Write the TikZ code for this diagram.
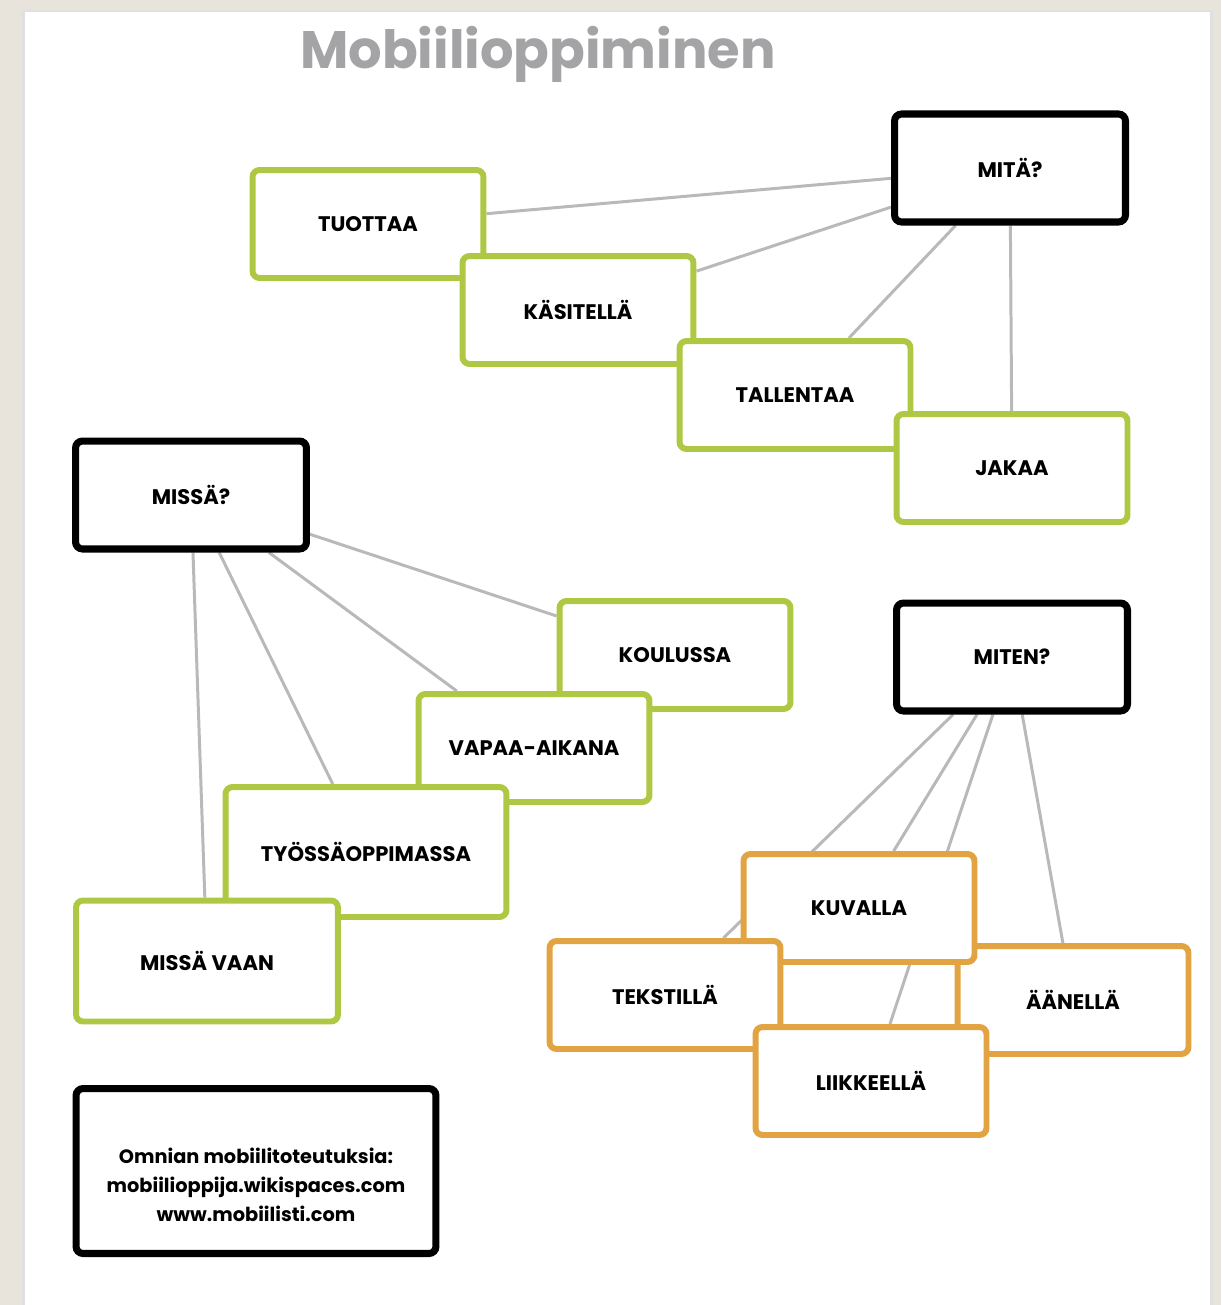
\documentclass[tikz,border=0pt]{standalone}
\usepackage{fontspec}
\setmainfont{Poppins}
\usetikzlibrary{backgrounds}
\definecolor{verb}{HTML}{AEC843}
\definecolor{manner}{HTML}{E2A443}
\definecolor{tiegray}{HTML}{B9B9B9}
\definecolor{paper}{HTML}{E8E4DB}
\definecolor{heading}{HTML}{A4A4A7}
\pgfdeclarelayer{links}
\pgfsetlayers{background,links,main}

\begin{document}
\begin{tikzpicture}[x=0.02cm, y=-0.02cm,
  box/.style={draw, fill=white, rounded corners=4pt, line width=3.4pt,
    minimum width=4.62cm, minimum height=2.16cm, align=center,
    font=\bfseries\fontsize{12}{14}\selectfont},
  question/.style={box, draw=black, line width=4pt},
  greenbox/.style={box, draw=verb},
  orangebox/.style={box, draw=manner},
  tie/.style={draw=tiegray, line width=1.7pt}]
  \useasboundingbox (0,0) rectangle (1221,1305);
  \begin{pgfonlayer}{background}
    \fill[paper] (0,0) rectangle (1221,1305);
    \fill[black!12] (22,10) rectangle (1213,1305);
    \fill[white] (25,12) rectangle (1210,1305);
  \end{pgfonlayer}

  \node[text=heading, font=\bfseries\fontsize{30}{30}\selectfont] (title) at (538,54) {Mobiilioppiminen};

  % Mitä?
  \node[question] (mita) at (1010,168) {MITÄ?};
  \node[greenbox] (tuottaa) at (368,224) {TUOTTAA};
  \node[greenbox] (kasitella) at (578,310) {KÄSITELLÄ};
  \node[greenbox] (tallentaa) at (795,395) {TALLENTAA};
  \node[greenbox] (jakaa) at (1012,468) {JAKAA};

  % Missä?
  \node[question] (missa) at (191,495) {MISSÄ?};
  \node[greenbox] (koulussa) at (675,655) {KOULUSSA};
  \node[greenbox] (vapaa) at (534,748) {VAPAA-AIKANA};
  \node[greenbox, minimum width=5.62cm, minimum height=2.6cm] (tyossa) at (366,852) {TYÖSSÄOPPIMASSA};
  \node[greenbox, minimum width=5.24cm, minimum height=2.42cm] (vaan) at (207,961) {MISSÄ VAAN};

  % Miten?
  \node[question] (miten) at (1012,657) {MITEN?};
  \node[orangebox] (aanella) at (1073,1000) {ÄÄNELLÄ};
  \node[orangebox] (kuvalla) at (859,908) {KUVALLA};
  \node[orangebox] (tekstilla) at (665,995) {TEKSTILLÄ};
  \node[orangebox] (liikkeella) at (871,1081) {LIIKKEELLÄ};

  \node[question, minimum width=7.2cm, minimum height=3.3cm,
        font=\bfseries\fontsize{11}{16.5}\selectfont] (info) at (256,1171)
    {\rule{0pt}{0.85cm}Omnian mobiilitoteutuksia:\\mobiilioppija.wikispaces.com\\www.mobiilisti.com};

  \begin{pgfonlayer}{links}
    \foreach \leaf in {tuottaa,kasitella,tallentaa,jakaa}
      \draw[tie] (mita) -- (\leaf);
    \foreach \leaf in {koulussa,vapaa,tyossa,vaan}
      \draw[tie] (missa) -- (\leaf);
    \foreach \leaf in {kuvalla,tekstilla,aanella,liikkeella}
      \draw[tie] (miten) -- (\leaf);
  \end{pgfonlayer}
\end{tikzpicture}
\end{document}
